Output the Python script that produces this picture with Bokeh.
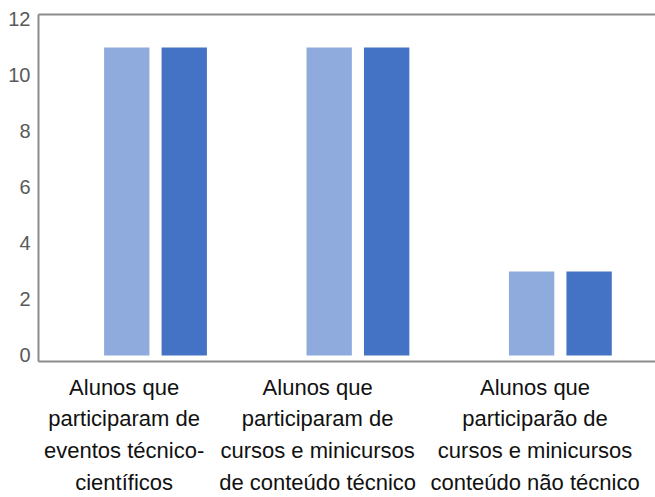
from bokeh.plotting import figure
from bokeh.models import Range1d, LinearAxis, FixedTicker, ColumnDataSource
from bokeh.transform import dodge
from bokeh.embed import file_html
from bokeh.resources import INLINE

# ---- data ----
tick_labels = [
    "Alunos que\nparticiparam de\neventos técnico-\ncientíficos",
    "Alunos que\nparticiparam de\ncursos e minicursos\nde conteúdo técnico",
    "Alunos que\nparticiparão de\ncursos e minicursos\nconteúdo não técnico",
]
serie_1 = [11, 11, 3]
serie_2 = [11, 11, 3]
y_ticks = [0, 2, 4, 6, 8, 10, 12]

# ---- styling ----
offset = 0.142
bar_w = 0.224
label_shifts = [-0.155, -0.199, -0.125]   # horizontal nudge of each wrapped label
axis_color = "#8c8c8c"

x = list(range(len(serie_1)))
src = ColumnDataSource(dict(x=x, s1=serie_1, s2=serie_2))

p = figure(width=655, height=497, output_backend="svg", toolbar_location=None,
           x_range=Range1d(-0.578, 2.47), y_range=Range1d(-0.215, 12.175),
           min_border_left=38, min_border_right=0, min_border_top=14,
           min_border_bottom=136)
p.outline_line_color = None
p.xgrid.visible = False
p.ygrid.visible = False
p.background_fill_color = "white"

p.vbar(x=dodge("x", -offset), top="s1", width=bar_w, source=src,
       fill_color="#8faadc", line_color=None)
p.vbar(x=dodge("x", offset), top="s2", width=bar_w, source=src,
       fill_color="#4472c4", line_color=None)

# y axis
ya = p.yaxis[0]
ya.ticker = FixedTicker(ticks=y_ticks)
ya.major_tick_out = 0
ya.major_tick_in = 0
ya.minor_tick_out = 0
ya.minor_tick_in = 0
ya.axis_line_color = axis_color
ya.axis_line_width = 2
ya.major_label_text_font = "Liberation Sans"
ya.major_label_text_font_size = "20px"
ya.major_label_text_color = "#595959"
ya.major_label_standoff = 8

# x axis
xt = [round(i + s, 3) for i, s in zip(x, label_shifts)]
xa = p.xaxis[0]
xa.ticker = FixedTicker(ticks=xt)
xa.major_label_overrides = {t: lab for t, lab in zip(xt, tick_labels)}
xa.major_tick_out = 0
xa.major_tick_in = 0
xa.minor_tick_out = 0
xa.minor_tick_in = 0
xa.axis_line_color = axis_color
xa.axis_line_width = 2
xa.major_label_text_font = "Liberation Sans"
xa.major_label_text_font_size = "22px"
xa.major_label_text_color = "#111111"
xa.major_label_text_line_height = 1.27
xa.major_label_standoff = 13

# top border as axis
top = LinearAxis(ticker=FixedTicker(ticks=[]), axis_line_color=axis_color,
                 axis_line_width=2, major_tick_out=0, major_tick_in=0,
                 minor_tick_out=0, minor_tick_in=0)
p.add_layout(top, "above")

open("out.html", "w").write(file_html(p, INLINE))
